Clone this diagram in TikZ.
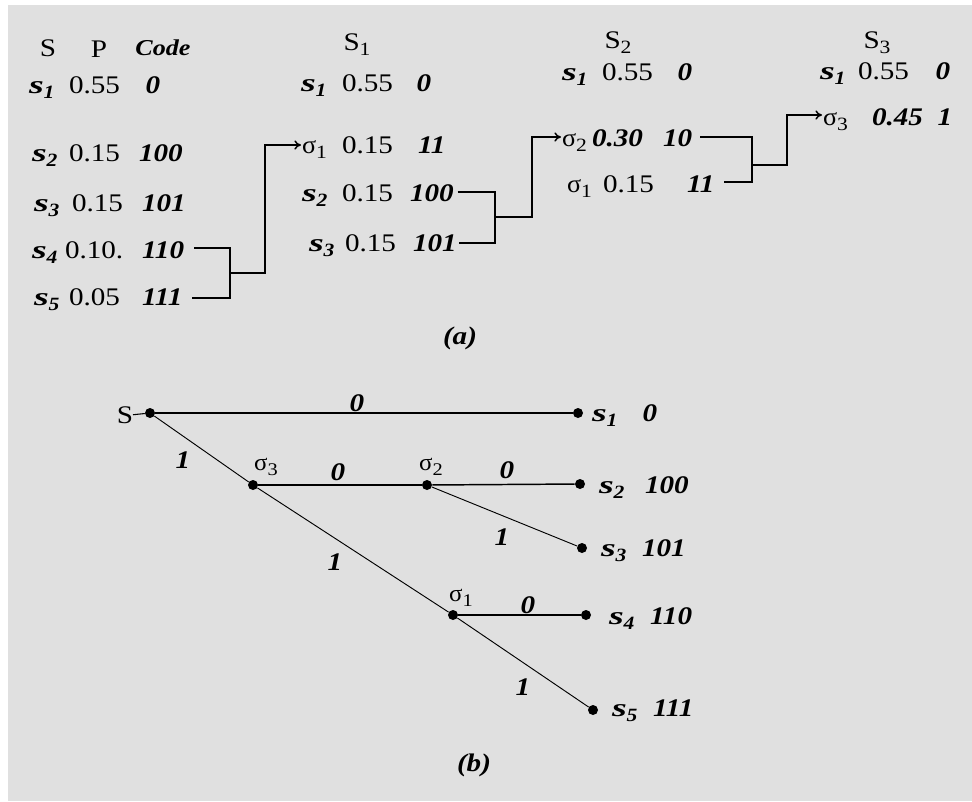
\documentclass[tikz,border=0pt]{standalone}
\usepackage{fontspec}
\usepackage{graphicx}
\setmainfont{Liberation Serif}[FakeStretch=1.15]
\usetikzlibrary{arrows.meta,calc}
\definecolor{bg}{RGB}{224,224,224}
\newcommand\lo[1]{\raisebox{-0.45ex}{\scalebox{0.74}{#1}}}
\newcommand\si[1]{\textbf{\textit{\scalebox{1.3}[1]{s}\lo{#1}}}}
\newcommand\sg[1]{\scalebox{0.9}[1]{σ}\lo{#1}}
\begin{document}
\begin{tikzpicture}[x=0.75pt,y=-0.75pt,
  tx/.style={inner sep=0,outer sep=0,font=\fontsize{19}{22}\selectfont},
  bi/.style={inner sep=0,outer sep=0,font=\fontsize{19}{22}\selectfont\bfseries\itshape},
  small/.style={inner sep=0,outer sep=0,font=\fontsize{18}{20}\selectfont},
  ln/.style={line width=1.1pt},
  dg/.style={line width=0.7pt},
  dot/.style={circle,fill=black,inner sep=0,minimum size=7.5pt},
  arr/.style={ln,-{To[length=5pt,width=7pt]}}]
\useasboundingbox (0,0) rectangle (972,801);
\fill[white] (0,0) rectangle (972,801);
\fill[bg] (8,5) rectangle (972,801);

% ---------- (a) ----------
\node[tx,anchor=base] (hS) at (48,56) {S};
\node[tx,anchor=base] (hP) at (99,57) {P};
\node[bi,anchor=base,font=\fontsize{17}{19}\selectfont\bfseries\itshape] (hC) at (163,55) {Code};

\node[tx,anchor=base west] (a1l) at (29,93) {\si{1}};
\node[tx,anchor=base west] (a1p) at (69,93) {0.55};
\node[bi,anchor=base] (a1c) at (153,93) {0};
\node[tx,anchor=base west] (a2l) at (32,161) {\si{2}};
\node[tx,anchor=base west] (a2p) at (69,161) {0.15};
\node[bi,anchor=base west] (a2c) at (139,161) {100};
\node[tx,anchor=base west] (a3l) at (34,211) {\si{3}};
\node[tx,anchor=base west] (a3p) at (72,211) {0.15};
\node[bi,anchor=base west] (a3c) at (142,211) {101};
\node[tx,anchor=base west] (a4l) at (32,258) {\si{4}};
\node[tx,anchor=base west] (a4p) at (65,258) {0.10.};
\node[bi,anchor=base west] (a4c) at (142,258) {110};
\node[tx,anchor=base west] (a5l) at (34,305) {\si{5}};
\node[tx,anchor=base west] (a5p) at (69,305) {0.05};
\node[bi,anchor=base west] (a5c) at (142,305) {111};

\node[tx,anchor=base] (hS1) at (357,50) {S\lo{1}};
\node[tx,anchor=base west] (b1l) at (301,91) {\si{1}};
\node[tx,anchor=base west] (b1p) at (342,91) {0.55};
\node[bi,anchor=base] (b1c) at (424,91) {0};
\node[tx,anchor=base west] (b2l) at (302,153) {\sg{1}};
\node[tx,anchor=base west] (b2p) at (342,153) {0.15};
\node[bi,anchor=base west] (b2c) at (418,153) {11};
\node[tx,anchor=base west] (b3l) at (302,201) {\si{2}};
\node[tx,anchor=base west] (b3p) at (342,201) {0.15};
\node[bi,anchor=base west] (b3c) at (410,201) {100};
\node[tx,anchor=base west] (b4l) at (309,251) {\si{3}};
\node[tx,anchor=base west] (b4p) at (345,251) {0.15};
\node[bi,anchor=base west] (b4c) at (413,251) {101};

\node[tx,anchor=base] (hS2) at (618,48) {S\lo{2}};
\node[tx,anchor=base west] (c1l) at (562,80) {\si{1}};
\node[tx,anchor=base west] (c1p) at (602,80) {0.55};
\node[bi,anchor=base] (c1c) at (685,80) {0};
\node[tx,anchor=base west] (c2l) at (562,146) {\sg{2}};
\node[bi,anchor=base west] (c2p) at (592,146) {0.30};
\node[bi,anchor=base west] (c2c) at (663,146) {10};
\node[tx,anchor=base west] (c3l) at (567,192) {\sg{1}};
\node[tx,anchor=base west] (c3p) at (603,192) {0.15};
\node[bi,anchor=base west] (c3c) at (687,192) {11};

\node[tx,anchor=base] (hS3) at (877,48) {S\lo{3}};
\node[tx,anchor=base west] (d1l) at (820,79) {\si{1}};
\node[tx,anchor=base west] (d1p) at (858,79) {0.55};
\node[bi,anchor=base] (d1c) at (943,79) {0};
\node[tx,anchor=base west] (d2l) at (823,125) {\sg{3}};
\node[bi,anchor=base west] (d2p) at (872,125) {0.45};
\node[bi,anchor=base] (d2c) at (945,125) {1};

% brackets
\coordinate (k4) at (230,248);
\coordinate (k5) at (230,298);
\coordinate (t1) at (301,145);
\draw[ln] ($(a4c.east|-k4)+(10,0)$) -- (k4) -- (k5) -- ($(a5c.east|-k5)+(10,0)$);
\draw[arr] ($(k4)!0.5!(k5)$) -- ++(35,0) |- (t1);

\coordinate (m2) at (495,192);
\coordinate (m3) at (495,243);
\coordinate (t2) at (561,137);
\draw[ln] ($(b3c.east|-m2)+(4,0)$) -- (m2) -- (m3) -- ($(b4c.east|-m3)+(2,0)$);
\draw[arr] (495,217) -- (532,217) |- (t2);

\coordinate (n2) at (752,137);
\coordinate (n3) at (752,182);
\coordinate (t3) at (822,115);
\draw[ln] ($(c2c.east|-n2)+(8,0)$) -- (n2) -- (n3) -- ($(c3c.east|-n3)+(9,0)$);
\draw[arr] (752,165) -- (787,165) |- (t3);

\node[bi] (capa) at (460,338) {(a)};

% ---------- (b) ----------
\node[dot] (dS) at (150,413) {};
\node[dot] (d1) at (578,413) {};
\node[dot] (dg3) at (253,485) {};
\node[dot] (dg2) at (427,485) {};
\node[dot] (d2) at (580,484) {};
\node[dot] (d3) at (582,548) {};
\node[dot] (dg1) at (453,615) {};
\node[dot] (d4) at (586,615) {};
\node[dot] (d5) at (593,710) {};

\node[tx,anchor=base east] (tS) at (133,423) {S};
\draw[line width=0.8pt] (tS.east) -- (dS);

\draw[ln] (dS) -- (d1);
\draw[dg] (dS) -- (dg3);
\draw[ln] (dg3) -- (dg2);
\draw[ln] (dg2) -- (d2);
\draw[dg] (dg2) -- (d3);
\draw[dg] (dg3) -- (dg1);
\draw[ln] (dg1) -- (d4);
\draw[dg] (dg1) -- (d5);

\node[small] (sg3) at (266,467) {\sg{3}};
\node[small] (sg2) at (431,467) {\sg{2}};
\node[small] (sg1) at (461,598) {\sg{1}};

\node[bi] (e0a) at (357,403) {0};
\node[bi] (e1a) at (183,460) {1};
\node[bi] (e0b) at (338,472) {0};
\node[bi] (e0c) at (507,470) {0};
\node[bi] (e1b) at (502,537) {1};
\node[bi] (e1c) at (335,562) {1};
\node[bi] (e0d) at (528,605) {0};
\node[bi] (e1d) at (523,687) {1};

\node[tx,anchor=base west] (t1l) at (592,421) {\si{1}};
\node[bi,anchor=base] (t1c) at (650,421) {0};
\node[tx,anchor=base west] (t2l) at (599,493) {\si{2}};
\node[bi,anchor=base west] (t2c) at (645,493) {100};
\node[tx,anchor=base west] (t3l) at (601,556) {\si{3}};
\node[bi,anchor=base west] (t3c) at (642,556) {101};
\node[tx,anchor=base west] (t4l) at (609,624) {\si{4}};
\node[bi,anchor=base west] (t4c) at (650,624) {110};
\node[tx,anchor=base west] (t5l) at (612,716) {\si{5}};
\node[bi,anchor=base west] (t5c) at (653,716) {111};

\node[bi] (capb) at (474,765) {(b)};
\end{tikzpicture}
\end{document}
